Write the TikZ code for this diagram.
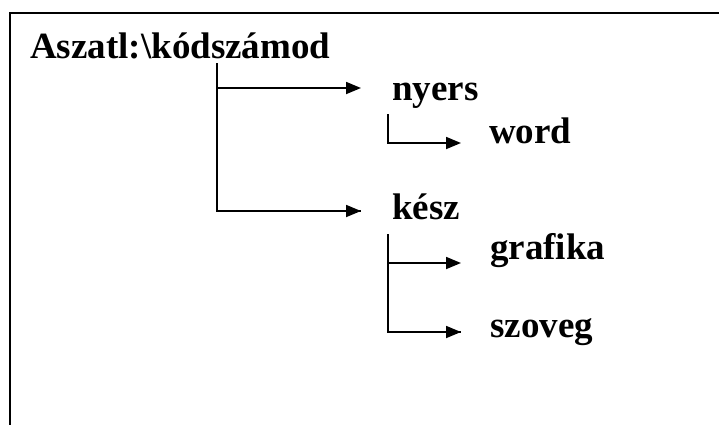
\documentclass[tikz,border=0pt]{standalone}
\usepackage{fontspec}
\setmainfont{Liberation Serif}
\usetikzlibrary{arrows.meta}
\tikzset{
  lbl/.style={anchor=base west, inner sep=0pt, font=\fontsize{37}{44}\selectfont\bfseries},
  conn/.style={line width=1.8pt, -{Triangle[length=15pt,width=12pt]}},
  frame/.style={line width=2pt}
}
\begin{document}
\begin{tikzpicture}[x=1pt,y=-1pt]
\useasboundingbox (0,0) rectangle (719,424);
\draw[frame] (9.5,430) -- (9.5,13) -- (725,13);
\node[lbl] (root) at (30,58) {Aszatl:\textbackslash kódszámod};
\node[lbl] (nyers) at (392,100) {nyers};
\node[lbl] (word) at (489,143) {word};
\node[lbl] (kesz) at (392,219) {kész};
\node[lbl] (grafika) at (490,259) {grafika};
\node[lbl] (szoveg) at (490,337) {szoveg};
% main trunk
\draw[line width=1.8pt] ([xshift=187pt,yshift=-5pt]root.base west) |- ([xshift=-31pt,yshift=8pt]kesz.base west);
\draw[conn] ([xshift=187pt,yshift=-30pt]root.base west) -- ([xshift=-31pt,yshift=12pt]nyers.base west);
\draw[conn] ([xshift=187pt,yshift=-153pt]root.base west) -- ([xshift=-31pt,yshift=8pt]kesz.base west);
% nyers -> word
\draw[conn] ([xshift=-4pt,yshift=-14pt]nyers.base west) |- ([xshift=-28pt]word.base west);
% kesz -> grafika, szoveg
\draw[line width=1.8pt] ([xshift=-4pt,yshift=-15pt]kesz.base west) |- ([xshift=-29pt,yshift=5pt]szoveg.base west);
\draw[conn] ([xshift=-4pt,yshift=-15pt]kesz.base west) |- ([xshift=-29pt,yshift=-4pt]grafika.base west);
\draw[conn] ([xshift=-4pt,yshift=-15pt]kesz.base west) |- ([xshift=-29pt,yshift=5pt]szoveg.base west);
\end{tikzpicture}
\end{document}
